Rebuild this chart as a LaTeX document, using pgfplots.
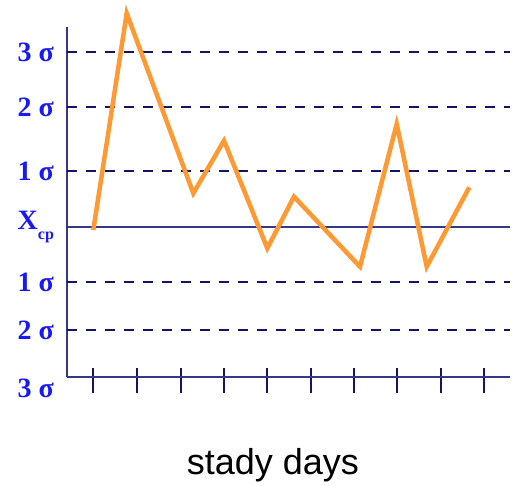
\documentclass[border=0pt]{standalone}
\usepackage{pgfplots}
\pgfplotsset{compat=1.18}
\usepackage{fontspec}
\setmainfont{Liberation Serif}
\newfontfamily\arial{Liberation Sans}
\definecolor{navyd}{RGB}{20,20,100}
\definecolor{navyax}{RGB}{55,55,135}
\definecolor{lblblue}{RGB}{25,25,245}
\definecolor{orangeln}{RGB}{255,153,51}
\newcommand{\lb}[1]{\textbf{#1}}
\begin{document}
\begin{tikzpicture}
\useasboundingbox (-67pt,-109pt) rectangle (445pt,377pt);
\begin{axis}[
  at={(0,0)}, anchor=south west,
  scale only axis, width=443pt, height=350pt,
  xmin=67, xmax=510, ymin=0, ymax=350,
  clip=false,
  axis x line*=bottom, axis y line*=left,
  axis line style={navyax, line width=2.5pt},
  xtick={93.3,137.3,180.7,224,267.3,310.7,354,397.3,440.7,484},
  xticklabels={},
  xtick style={navyd, line width=1.8pt, yshift=-3.5pt},
  major tick length=25pt,
  tick align=center,
  ytick={47,95,150,206,270,325},
  ytick style={draw=none},
  yticklabels={\lb{2 σ},\lb{1 σ},\lb{X\raisebox{-0.35em}{\fontsize{16}{16}\selectfont cp}},\lb{1 σ},\lb{2 σ},\lb{3 σ}},
  yticklabel style={font=\fontsize{28}{30}\selectfont, text=lblblue, anchor=east, xshift=3pt},
  extra y ticks={0},
  extra y tick labels={\lb{3 σ}},
  extra y tick style={yticklabel style={yshift=-11pt}, grid=none},
]
\addplot[navyd, line width=2.6pt, dash pattern=on 10pt off 9pt] coordinates {(67,47) (510,47)};
\addplot[navyd, line width=2.6pt, dash pattern=on 10pt off 9pt] coordinates {(67,95) (510,95)};
\addplot[navyd, line width=2.6pt, dash pattern=on 10pt off 9pt] coordinates {(67,206) (510,206)};
\addplot[navyd, line width=2.6pt, dash pattern=on 10pt off 9pt] coordinates {(67,270) (510,270)};
\addplot[navyd, line width=2.6pt, dash pattern=on 10pt off 9pt] coordinates {(67,325) (510,325)};
\addplot[navyax, line width=2.2pt] coordinates {(67,150) (510,150)};
\addplot[orangeln, line width=4.5pt, line join=miter, mark=none] coordinates {
 (93.3,147) (126.7,363.7) (193.3,183.7) (224,236.3) (267.3,128.7)
 (294,180.3) (360,110.3) (396.7,253) (426.7,110.3) (469.3,189.7)};
\node[font=\arial\fontsize{36}{40}\selectfont, anchor=center] at (rel axis cs:0.465,0) [yshift=-88pt] {stady days};
\end{axis}
\end{tikzpicture}
\end{document}
